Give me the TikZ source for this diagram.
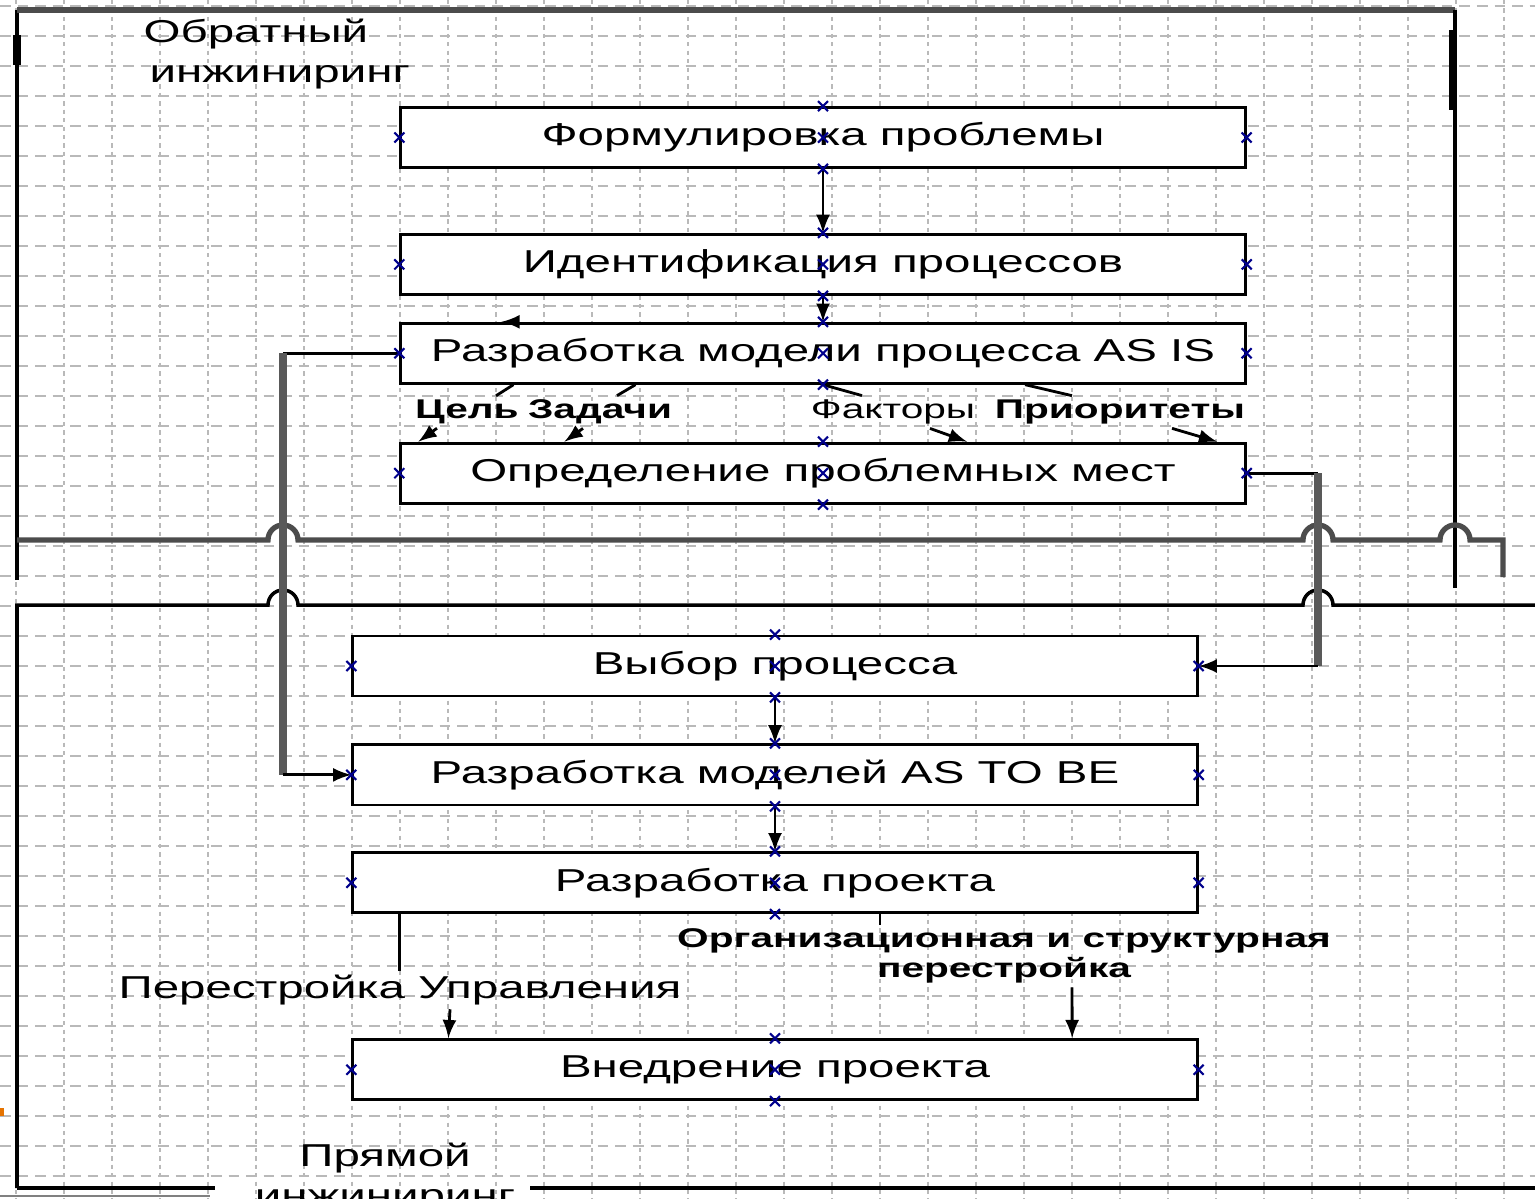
\documentclass[tikz,border=0pt]{standalone}
\usepackage{fontspec}
\setmainfont{Liberation Sans}
\usetikzlibrary{positioning}

\newcommand{\xw}[1]{\scalebox{1.5}[1]{#1}}

\begin{document}
\begin{tikzpicture}[x=0.01cm, y=-0.01cm,
	box/.style={draw, line width=0.8pt, fill=white, minimum width=8.44cm, minimum height=0.6cm, inner sep=0pt, font=\fontsize{9}{11}\selectfont},
	lbl/.style={inner sep=1pt, font=\fontsize{7.7}{9}\selectfont\bfseries},
	link/.style={line width=0.8pt},
	arr/.style={line width=0.8pt, -latex},
	feed/.style={line width=2pt, gray!70!black},
	frame/.style={line width=1pt},
	gridv/.style={gray!55, line width=0.4pt, dash pattern=on 1.2pt off 1.2pt},
	gridh/.style={gray!55, line width=0.4pt, dash pattern=on 3pt off 2pt},
	xpt/.pic={\draw[blue!55!black, line width=0.6pt] (-5,-5) -- (5,5) (-5,5) -- (5,-5);}
]
	\fill[white] (0,0) rectangle (1535,1199);
	\useasboundingbox (0,0) rectangle (1535,1199);

	% grid
	\foreach \i in {0,...,31}
		\draw[gridv] ({16+48*\i},0) -- ({16+48*\i},1199);
	\foreach \j in {0,...,39}
		\draw[gridh] (0,{6+30*\j}) -- (1535,{6+30*\j});

	% frames
	\draw[frame] (17,580) -- (17,10);
	\draw[frame, gray!60!black, line width=1.5pt] (17,10) -- (1455,10);
	\draw[frame] (1455,10) -- (1455,588);
	\draw[line width=2.5pt] (17,35) -- (17,65);
	\draw[line width=2.5pt] (1453,30) -- (1453,110);
	\draw[frame, gray!60!black, line width=1.5pt] (17,540) -- (268,540) arc[start angle=180, end angle=360, radius=15]
		-- (1303,540) arc[start angle=180, end angle=360, radius=15]
		-- (1440,540) arc[start angle=180, end angle=360, radius=15]
		-- (1503,540) -- (1503,577);
	\draw[frame] (17,1188) -- (17,605) -- (268,605) arc[start angle=180, end angle=360, radius=15]
		-- (1303,605) arc[start angle=180, end angle=360, radius=15] -- (1535,605);
	\draw[frame] (17,1188) -- (215,1188);
	\draw[frame] (530,1188) -- (1535,1188);
	\draw[gray, line width=0.6pt] (0,1196) -- (210,1196);
	\fill[orange!90!black] (0,1108) rectangle (4,1116);

	\node[align=left, inner sep=0pt, anchor=north west, font=\fontsize{9}{11.5}\selectfont] (rev) at (143,18) {\xw{Обратный}\\\hspace{0.06cm}\xw{инжиниринг}};
	\node[align=center, inner sep=0pt, anchor=north, font=\fontsize{9}{11.5}\selectfont] (fwd) at (385,1142) {\xw{Прямой}\\\xw{инжиниринг}};

	% boxes
	\node[box] (form) at (823,137.5) {\xw{Формулировка проблемы}};
	\node[box, below=0.64cm of form] (ident) {\xw{Идентификация процессов}};
	\node[box, below=0.26cm of ident] (asis) {\xw{Разработка модели процесса AS IS}};
	\node[box, below=0.57cm of asis] (defp) {\xw{Определение проблемных мест}};
	\node[box] (choice) at (775,666) {\xw{Выбор процесса}};
	\node[box, below=0.46cm of choice] (tobe) {\xw{Разработка моделей AS TO BE}};
	\node[box, below=0.45cm of tobe] (proj) {\xw{Разработка проекта}};
	\node[box, below=1.24cm of proj] (impl) {\xw{Внедрение проекта}};

	% labels
	\node[lbl] (goal) at (467,412) {\xw{Цель}};
	\node[lbl] (tasks) at (600,412) {\xw{Задачи}};
	\node[lbl, font=\fontsize{7.7}{9}\selectfont] (factors) at (893,412) {\xw{Факторы}};
	\node[lbl] (prio) at (1120,412) {\xw{Приоритеты}};
	\node[inner sep=1pt, font=\fontsize{9}{11}\selectfont] (mgmt) at (400,990) {\xw{Перестройка Управления}};
	\node[lbl, align=center, font=\fontsize{7.7}{8.5}\selectfont\bfseries] (org) at (1004,956) {\xw{Организационная и структурная}\\\xw{перестройка}};

	% connectors
	\draw[arr] (form) -- (ident);
	\draw[arr] (ident) -- (asis);
	\draw[arr] ([xshift=1.2cm]asis.north west) -- ([xshift=1.02cm]asis.north west);
	\draw[link] ([xshift=1.14cm]asis.south west) -- ([xshift=0.29cm]goal.north);
	\draw[arr] ([xshift=-0.3cm]goal.south) -- ([xshift=0.19cm]defp.north west);
	\draw[link] ([xshift=2.36cm]asis.south west) -- ([xshift=0.17cm]tasks.north);
	\draw[arr] ([xshift=-0.17cm]tasks.south) -- ([xshift=1.65cm]defp.north west);
	\draw[link] (asis.south) -- ([xshift=-0.31cm]factors.north);
	\draw[arr] ([xshift=0.37cm]factors.south) -- ([xshift=1.44cm]defp.north);
	\draw[link] ([xshift=2.02cm]asis.south) -- ([xshift=-0.48cm]prio.north);
	\draw[arr] ([xshift=0.52cm]prio.south) -- ([xshift=3.94cm]defp.north);
	\draw[arr] (choice) -- (tobe);
	\draw[arr] (tobe) -- (proj);

	\coordinate (lx) at (283,0);
	\draw[link] (asis.west) -- (asis.west -| lx);
	\draw[feed] (asis.west -| lx) -- (tobe.west -| lx);
	\draw[arr] (tobe.west -| lx) -- (tobe.west);
	\coordinate (rx) at (1318,0);
	\draw[link] (defp.east) -- (defp.east -| rx);
	\draw[feed] (defp.east -| rx) -- (choice.east -| rx);
	\draw[arr] (choice.east -| rx) -- (choice.east);

	\draw[link] ([xshift=0.48cm]proj.south west) -- ([xshift=0.48cm]proj.south west |- mgmt.north);
	\draw[arr] ([xshift=0.5cm]mgmt.south) -- ([xshift=0.97cm]impl.north west);
	\draw[link] ([xshift=1.05cm]proj.south) -- ([xshift=1.05cm]proj.south |- org.north);
	\draw[arr] ([xshift=0.68cm]org.south) -- ([xshift=2.97cm]impl.north);

	% connection points
	\foreach \b in {form,ident,asis,defp,choice,tobe,proj,impl}
		\foreach \a in {north,south,east,west,center}
			\pic at (\b.\a) {xpt};
\end{tikzpicture}
\end{document}
